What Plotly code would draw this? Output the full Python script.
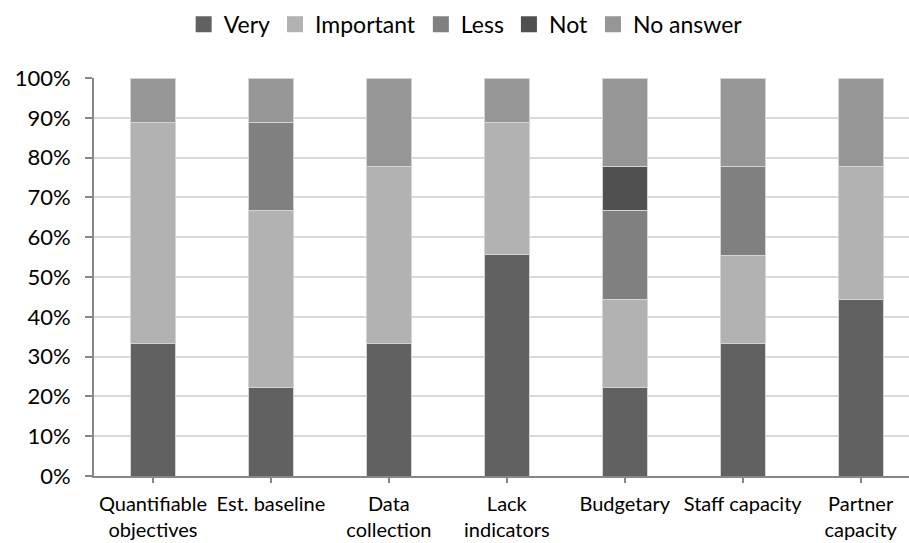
import plotly.graph_objects as go

# Survey: how important each factor was (share of respondents)
categories = ["Quantifiable<br>objectives", "Est. baseline", "Data<br>collection",
              "Lack<br>indicators", "Budgetary", "Staff capacity", "Partner<br>capacity"]

very = [33.3, 22.2, 33.3, 55.6, 22.2, 33.3, 44.4]
important = [55.6, 44.4, 44.4, 33.3, 22.2, 22.2, 33.3]
less = [0, 22.2, 0, 0, 22.2, 22.2, 0]
not_important = [0, 0, 0, 0, 11.1, 0, 0]
no_answer = [11.1, 11.1, 22.2, 11.1, 22.2, 22.2, 22.2]

series = [
    ("Very", very, "#616161"),
    ("Important", important, "#b2b2b2"),
    ("Less", less, "#808080"),
    ("Not", not_important, "#505050"),
    ("No answer", no_answer, "#969696"),
]

FONT = "Lato"
fig = go.Figure()

x_idx = list(range(len(categories)))
for name, vals, color in series:
    fig.add_trace(go.Bar(
        x=x_idx, y=vals, name=name, showlegend=False,
        marker=dict(color=color, line=dict(color="#d4d4d4", width=1)),
    ))
# legend entries with larger square swatches
for name, vals, color in series:
    fig.add_trace(go.Scatter(
        x=[None], y=[None], mode="markers", name=name,
        marker=dict(symbol="square", size=16, color=color),
    ))

fig.update_layout(
    width=909, height=543,
    barmode="stack", bargap=0.62,
    plot_bgcolor="white", paper_bgcolor="white",
    margin=dict(l=94, r=0, t=78, b=67),
    font=dict(family=FONT, color="#000000"),
    legend=dict(
        orientation="h", x=0.11, xanchor="left", y=1.135, yanchor="middle",
        traceorder="normal",
        font=dict(size=23, family=FONT, color="#000000"),
        itemwidth=30, tracegroupgap=0,
    ),
)

fig.update_xaxes(
    tickmode="array", tickvals=x_idx, ticktext=categories,
    range=[-0.5, 6.41],
    showline=True, linecolor="#878787", linewidth=2,
    ticks="outside", tickson="boundaries", ticklen=5, tickcolor="#878787", tickwidth=2,
    tickfont=dict(size=20, family=FONT, color="#000000"),
    ticklabelstandoff=4,
    showgrid=False, zeroline=False,
)
fig.update_yaxes(
    range=[0, 100], tickmode="array",
    tickvals=[0, 10, 20, 30, 40, 50, 60, 70, 80, 90, 100],
    ticktext=[f"{v}%" for v in range(0, 101, 10)],
    showline=True, linecolor="#878787", linewidth=2,
    ticks="outside", ticklen=7, tickcolor="#878787", tickwidth=2,
    showgrid=True, gridcolor="#d9d9d9", gridwidth=1.5,
    zeroline=False, ticklabelstandoff=10,
    tickfont=dict(size=22, family=FONT, color="#000000"),
)

fig.write_html("out.html")
